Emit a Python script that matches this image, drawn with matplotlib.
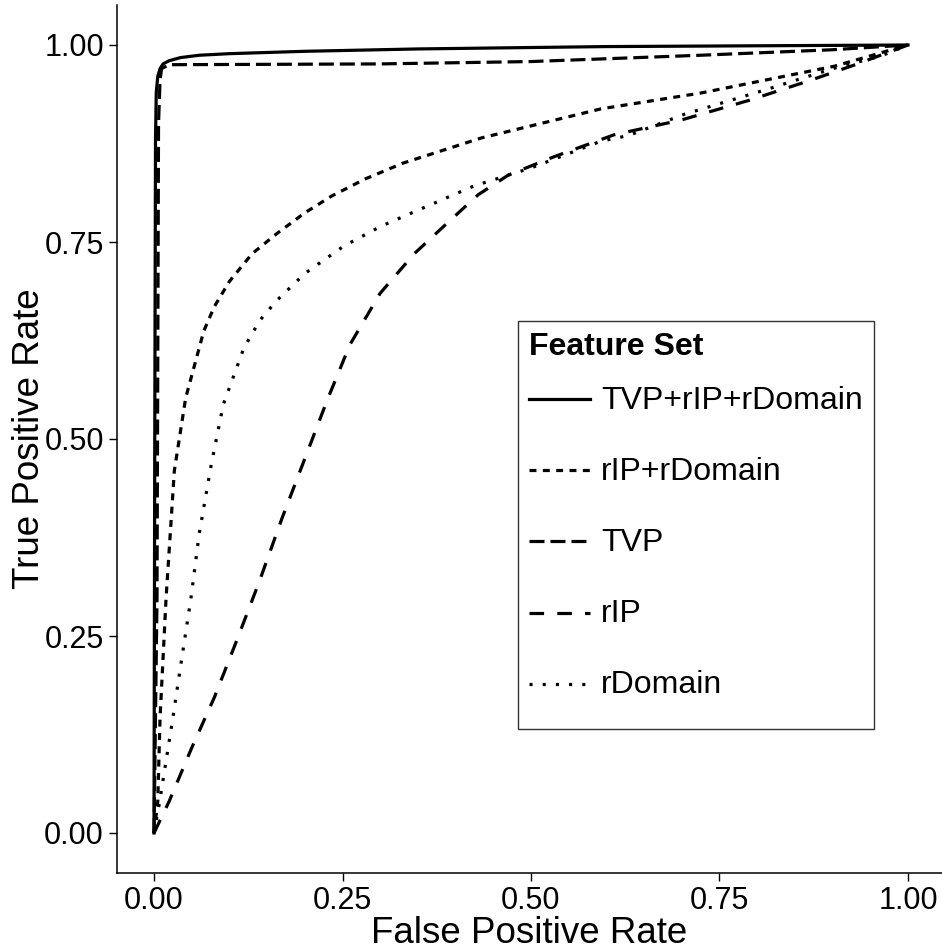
import matplotlib
matplotlib.use("Agg")
import matplotlib.pyplot as plt
from matplotlib.legend_handler import HandlerLine2D
from matplotlib.lines import Line2D

plt.rcParams['font.family'] = ['Liberation Sans', 'DejaVu Sans']
plt.rcParams['lines.scale_dashes'] = False

# ROC curves
full_fpr = [0.0, 0.001, 0.002, 0.003, 0.005, 0.008, 0.012, 0.02, 0.035, 0.06, 0.1, 0.2, 0.35, 0.6, 1.0]
full_tpr = [0.0, 0.5, 0.88, 0.94, 0.96, 0.97, 0.976, 0.98, 0.984, 0.987, 0.989, 0.992, 0.995, 0.998, 1.0]

iprd_fpr = [0.0, 0.005, 0.008, 0.016, 0.027, 0.042, 0.066, 0.08, 0.10, 0.13, 0.162, 0.2, 0.235, 0.28, 0.33, 0.434, 0.593, 0.725, 0.902, 1.0]
iprd_tpr = [0.0, 0.04, 0.146, 0.298, 0.46, 0.552, 0.637, 0.668, 0.70, 0.735, 0.76, 0.787, 0.808, 0.83, 0.85, 0.882, 0.919, 0.939, 0.973, 1.0]

tvp_fpr = [0.0, 0.004, 0.005, 0.006, 0.008, 0.01, 0.02, 0.3, 0.5, 0.725, 0.9, 1.0]
tvp_tpr = [0.0, 0.3, 0.6, 0.9, 0.955, 0.97, 0.975, 0.976, 0.979, 0.987, 0.994, 1.0]

rip_fpr = [0.0, 0.02, 0.05, 0.08, 0.11, 0.14, 0.17, 0.2, 0.23, 0.26, 0.3, 0.345, 0.39, 0.43, 0.47, 0.53, 0.61, 0.7, 0.79, 0.87, 0.93, 1.0]
rip_tpr = [0.0, 0.04, 0.108, 0.172, 0.245, 0.32, 0.40, 0.475, 0.55, 0.62, 0.685, 0.735, 0.775, 0.81, 0.835, 0.858, 0.886, 0.905, 0.93, 0.955, 0.975, 1.0]

rdom_fpr = [0.0, 0.007, 0.025, 0.035, 0.049, 0.06, 0.076, 0.092, 0.119, 0.14, 0.162, 0.2, 0.252, 0.301, 0.424, 0.5, 0.593, 0.629, 0.703, 0.814, 0.9, 0.964, 1.0]
rdom_tpr = [0.0, 0.037, 0.146, 0.21, 0.298, 0.38, 0.468, 0.544, 0.615, 0.65, 0.675, 0.71, 0.745, 0.770, 0.821, 0.844, 0.878, 0.885, 0.912, 0.944, 0.97, 0.986, 1.0]

labels = ["TVP+rIP+rDomain", "rIP+rDomain", "TVP", "rIP", "rDomain"]
xticks = [0.0, 0.25, 0.5, 0.75, 1.0]
yticks = [0.0, 0.25, 0.5, 0.75, 1.0]


class LowerLine(HandlerLine2D):
    """Legend key line centred on the label text."""
    def create_artists(self, *args, **kwargs):
        arts = super().create_artists(*args, **kwargs)
        for a in arts:
            a.set_ydata([y - 9.0 for y in a.get_ydata()])
        return arts


W, H = 942, 952
fig = plt.figure(figsize=(W / 100, H / 100), dpi=100)
left, right, bottom, top = 117, 942, 873, 5
ax = fig.add_axes([left / W, (H - bottom) / H, (right - left) / W, (bottom - top) / H])

lw = 2.3
styles = [
    (0, ()),
    (0, (5.0, 4.6)),
    (0, (10.8, 4.3)),
    (0, (10.5, 9.5)),
    (0, (2.2, 7.3)),
]
series = [(full_fpr, full_tpr), (iprd_fpr, iprd_tpr), (tvp_fpr, tvp_tpr),
          (rip_fpr, rip_tpr), (rdom_fpr, rdom_tpr)]
for (xs, ys), lab, ls in zip(series, labels, styles):
    if ls == (0, ()):
        ax.plot(xs, ys, color='black', lw=lw, linestyle='-', label=lab,
                solid_joinstyle='round')
    else:
        ax.plot(xs, ys, color='black', lw=lw, linestyle=ls, label=lab,
                dash_capstyle='butt')

px_x = 754.0
xmin = -(154 - left) / px_x
xmax = xmin + (right - left) / px_x
px_y = 788.0
ymin = -(bottom - 833) / px_y
ymax = ymin + (bottom - top) / px_y
ax.set_xlim(xmin, xmax)
ax.set_ylim(ymin, ymax)

ax.set_xticks(xticks)
ax.set_yticks(yticks)
ax.set_xticklabels([f"{v:.2f}" for v in xticks])
ax.set_yticklabels([f"{v:.2f}" for v in yticks])
ax.tick_params(axis='both', labelsize=22, length=5.5, width=1.0, color='black',
               labelcolor='black', direction='out')
ax.tick_params(axis='x', pad=4)
ax.tick_params(axis='y', pad=4)

for s in ['top', 'right']:
    ax.spines[s].set_visible(False)
for s in ['left', 'bottom']:
    ax.spines[s].set_linewidth(1.1)
    ax.spines[s].set_color('black')

ax.set_xlabel("False Positive Rate", fontsize=26.5, labelpad=0)
ax.set_ylabel("True Positive Rate", fontsize=26.5, labelpad=-2)

leg = ax.legend(loc='upper left', bbox_to_anchor=((518 - left) / (right - left), (bottom - 321) / (bottom - top)),
                fontsize=23, title="Feature Set", title_fontproperties={'weight': 'bold', 'size': 23},
                alignment='left', frameon=True, fancybox=False, edgecolor='black',
                handlelength=1.9, handleheight=2.9, handletextpad=0.35, labelspacing=0.094,
                borderpad=0.35, borderaxespad=0, handler_map={Line2D: LowerLine()})
leg.get_frame().set_linewidth(1.0)

fig.savefig("out.png", dpi=100)
